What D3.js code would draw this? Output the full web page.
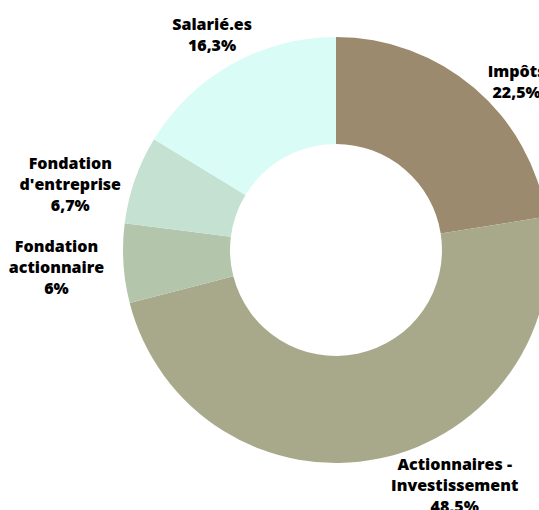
<!DOCTYPE html>
<html>
<head>
<meta charset="utf-8">
<script src="https://cdn.jsdelivr.net/npm/d3@7"></script>
<style>
  html, body { margin: 0; padding: 0; background: #ffffff; overflow: hidden; }
  svg { display: block; }
  text { font-family: "Open Sans", sans-serif; font-weight: 800; fill: #000; }
</style>
</head>
<body>
<svg id="chart" width="539" height="510"></svg>
<script>
// Data
const categories = ["Impôts", "Actionnaires - Investissement", "Fondation actionnaire", "Fondation d'entreprise", "Salarié.es"];
const labelLines = [["Impôts"], ["Actionnaires -", "Investissement"], ["Fondation", "actionnaire"], ["Fondation", "d'entreprise"], ["Salarié.es"]];
const values = [22.5, 48.5, 6, 6.7, 16.3];
const valueLabels = ["22,5%", "48,5%", "6%", "6,7%", "16,3%"];
const colors = ["#9c8a6e", "#a8a98a", "#b3c6ac", "#c5e1d2", "#d9fcf6"];

// Layout
const cx = 336, cy = 250, outerR = 213, innerR = 106, labelR = 255;
const labelNudge = [[15, 26], [67, -14], [-25, 1], [-25, 19], [1, 7]];
const lineH = 21;

const svg = d3.select("#chart");
const g = svg.append("g").attr("transform", `translate(${cx},${cy})`);

const pie = d3.pie().sort(null).value(d => d.value);
const data = categories.map((c, i) => ({ name: c, value: values[i], i }));
const arcs = pie(data);

const arc = d3.arc().innerRadius(innerR).outerRadius(outerR);
const labelArc = d3.arc().innerRadius(labelR).outerRadius(labelR);

g.selectAll("path.slice")
  .data(arcs)
  .join("path")
  .attr("class", "slice")
  .attr("d", arc)
  .attr("fill", d => colors[d.data.i]);

const labels = g.selectAll("text.lbl")
  .data(arcs)
  .join("text")
  .attr("class", "lbl")
  .attr("text-anchor", "middle")
  .attr("font-size", 16)
  .attr("transform", d => {
    const [x, y] = labelArc.centroid(d);
    const n = labelNudge[d.data.i];
    const lines = labelLines[d.data.i].length + 1;
    const top = y + n[1] - (lines - 1) * lineH / 2;
    return `translate(${x + n[0]},${top})`;
  });

labels.each(function(d) {
  const t = d3.select(this);
  const lines = labelLines[d.data.i].concat([valueLabels[d.data.i]]);
  lines.forEach((ln, k) => {
    t.append("tspan")
      .attr("x", 0)
      .attr("y", k * lineH)
      .attr("dy", "0.35em")
      .text(ln);
  });
});
</script>
</body>
</html>
